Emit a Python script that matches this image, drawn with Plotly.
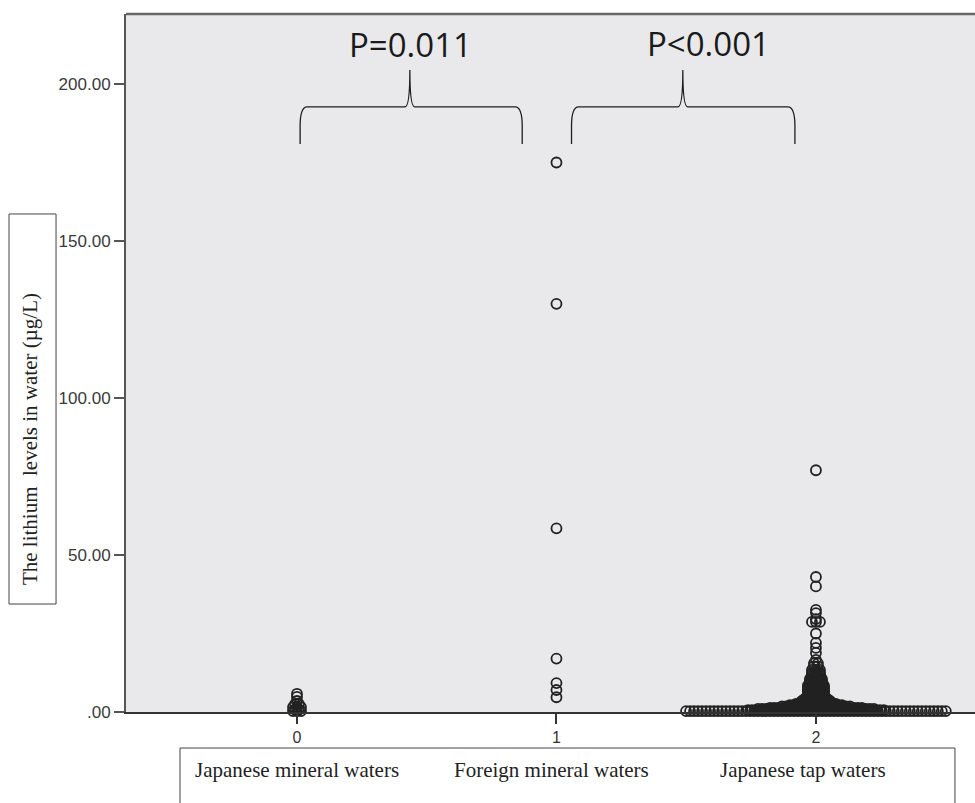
import plotly.graph_objects as go

# ---------------- data ----------------
categories = [0, 1, 2]
x_ticktext = ["0", "1", "2"]
category_labels = ["Japanese mineral waters", "Foreign mineral waters", "Japanese tap waters"]

# Japanese mineral waters (group 0): lithium level (ug/L) and number of waters at that level
jm_levels = [0.3, 0.8, 1.5, 2.5, 3.5, 4.8, 5.8]
jm_counts = [3, 2, 3, 2, 1, 1, 1]

# Foreign mineral waters (group 1)
fm_levels = [175.0, 130.0, 58.5, 17.0, 9.2, 7.0, 4.7]
fm_counts = [1, 1, 1, 1, 1, 1, 1]

# Japanese tap waters (group 2)
tap_levels = [0.3, 0.6, 1.0, 1.3, 1.8, 2.2, 2.6, 3.0, 3.5, 4.0, 4.5, 5.0, 5.5, 6.0,
              6.5, 7.0, 7.5, 8.0, 8.5, 9.0, 9.5, 10.0, 10.5, 11.0, 11.5, 12.0, 12.5,
              13.4, 14.5, 15.5, 16.6, 18.8, 20.4, 22.0, 25.0, 28.7, 29.6, 31.5, 32.5,
              40.0, 43.0, 77.0]
tap_counts = [66, 35, 30, 24, 18, 14, 11, 9, 8, 7, 6, 5, 5, 5,
              5, 5, 5, 5, 5, 4, 4, 4, 4, 3, 3, 3, 3,
              3, 2, 2, 1, 1, 1, 1, 1, 3, 1, 1, 1,
              1, 1, 1]

y_tickvals = [0, 50, 100, 150, 200]
y_ticktext = [".00", "50.00", "100.00", "150.00", "200.00"]

p_labels = ["P=0.011", "P<0.001"]
y_title = "The lithium  levels in water (\u00b5g/L)"

# ---------------- layout helpers ----------------
STEP = 0.0154  # horizontal stacking distance between identical values (x units)


def stack(cat, levels, counts):
    xs, ys = [], []
    for v, n in zip(levels, counts):
        for i in range(n):
            xs.append(cat + (i - (n - 1) / 2.0) * STEP)
            ys.append(v)
    return xs, ys


marker = dict(symbol="circle-open", size=10, color="#222222", line=dict(width=1.8, color="#222222"))

fig = go.Figure()
for cat, lv, ct in [(categories[0], jm_levels, jm_counts),
                    (categories[1], fm_levels, fm_counts),
                    (categories[2], tap_levels, tap_counts)]:
    xs, ys = stack(cat, lv, ct)
    fig.add_trace(go.Scatter(x=xs, y=ys, mode="markers", marker=marker,
                             showlegend=False, cliponaxis=False, hoverinfo="y"))


def brace_path(x0, x1, xc, yb, yc, yh, yt, dx, dc):
    return (f"M {x0},{yb} L {x0},{yc} Q {x0},{yh} {x0+dx},{yh} "
            f"L {xc-dc},{yh} Q {xc},{yh} {xc},{yt} "
            f"Q {xc},{yh} {xc+dc},{yh} "
            f"L {x1-dx},{yh} Q {x1},{yh} {x1},{yc} L {x1},{yb}")


shapes = []
for (x0, x1, xc) in [(0.012, 0.868, 0.435), (1.058, 1.919, 1.487)]:
    shapes.append(dict(type="path", xref="x", yref="y",
                       path=brace_path(x0, x1, xc, 180.9, 186.5, 192.7, 204.5, 0.027, 0.019),
                       line=dict(color="#1e1e1e", width=1.3)))

# top border of plot area
shapes.append(dict(type="line", xref="paper", yref="paper", x0=0, x1=1, y0=1, y1=1,
                   line=dict(color="#666666", width=2.5)))
# y-title box
shapes.append(dict(type="rect", xref="paper", yref="paper", x0=-0.1378, x1=-0.0824,
                   y0=0.1547, y1=0.7135, line=dict(color="#444444", width=1)))
# x labels box
shapes.append(dict(type="rect", xref="paper", yref="paper", x0=0.0636, x1=0.9764,
                   y0=-0.25, y1=-0.0516, line=dict(color="#444444", width=1)))

annotations = []
for txt, x, y in zip(p_labels, [0.439, 1.584], [212.5, 213.0]):
    annotations.append(dict(text=txt, x=x, y=y, xref="x", yref="y", showarrow=False,
                            xanchor="center", yanchor="middle",
                            font=dict(family="Open Sans", size=33, color="#1a1a1a")))
for txt, x in zip(category_labels, [0.0, 0.98, 1.95]):
    annotations.append(dict(text=txt, x=x, y=-0.0831, xref="x", yref="paper", showarrow=False,
                            xanchor="center", yanchor="middle",
                            font=dict(family="Liberation Serif", size=21, color="#222222")))
annotations.append(dict(text=y_title, x=-0.1131, y=0.391, xref="paper", yref="paper",
                        showarrow=False, textangle=-90, xanchor="center", yanchor="middle",
                        font=dict(family="Liberation Serif", size=21, color="#222222")))

fig.update_layout(
    width=975, height=803, autosize=False,
    margin=dict(l=126, r=0, t=14, b=91, pad=0),
    paper_bgcolor="white", plot_bgcolor="#E9E9EB",
    xaxis=dict(range=[-0.659, 2.613], tickvals=categories, ticktext=x_ticktext,
               ticks="outside", ticklen=10, tickwidth=2, tickcolor="#333333",
               showline=True, linecolor="#333333", linewidth=2,
               showgrid=False, zeroline=False,
               tickfont=dict(family="Liberation Sans", size=16, color="#333333")),
    yaxis=dict(range=[0, 222.3], tickvals=y_tickvals, ticktext=y_ticktext,
               ticks="outside", ticklen=10, tickwidth=2, tickcolor="#555555",
               showline=True, linecolor="#555555", linewidth=2,
               showgrid=False, zeroline=False,
               tickfont=dict(family="Liberation Sans", size=17, color="#3a3a3a")),
    shapes=shapes, annotations=annotations,
)

fig.write_html("out.html", config={"displayModeBar": False},
               post_script="document.body.style.margin='0';document.body.style.overflow='hidden';")
